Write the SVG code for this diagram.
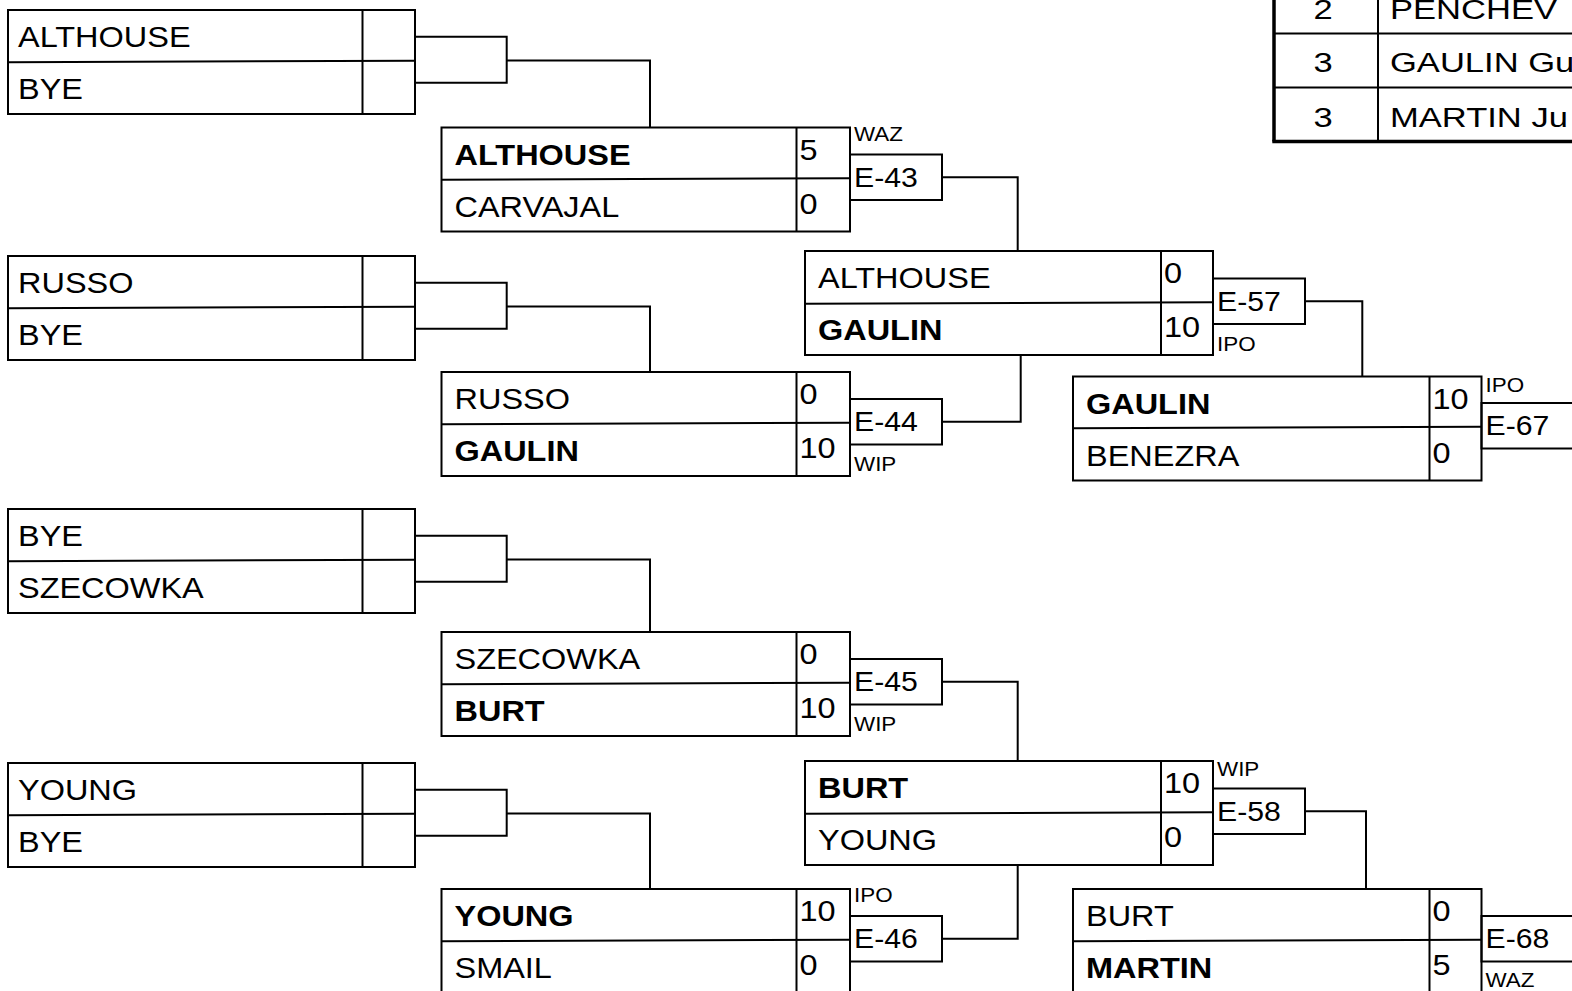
<svg xmlns="http://www.w3.org/2000/svg" width="1572" height="991" viewBox="0 0 1572 991">
<style>
.b{fill:none;stroke:#000;stroke-width:2}
.tb{fill:none;stroke:#000;stroke-width:3.5}
.c{fill:none;stroke:#000;stroke-width:2}
text{font-family:"Liberation Sans",Arial,sans-serif;fill:#000}
.n{font-size:29px}
.w{font-weight:bold}
.m{font-size:27px}
.t{font-size:20px}
.tt{font-size:27px}
</style>
<rect x="0" y="0" width="1572" height="991" fill="#fff"/>

<g id="table">
<line class="tb" x1="1274" y1="-5" x2="1274" y2="141.5"/>
<line class="tb" x1="1272.3" y1="141.5" x2="1580" y2="141.5"/>
<line class="b" x1="1378" y1="-5" x2="1378" y2="141.5"/>
<line class="b" x1="1274" y1="33.5" x2="1580" y2="33.5"/>
<line class="b" x1="1274" y1="87.5" x2="1580" y2="87.5"/>
<text class="tt" text-anchor="middle" transform="translate(1323 19) scale(1.28 1)">2</text>
<text class="tt" text-anchor="middle" transform="translate(1323 72) scale(1.28 1)">3</text>
<text class="tt" text-anchor="middle" transform="translate(1323 126.5) scale(1.28 1)">3</text>
<text class="tt" transform="translate(1390 19) scale(1.28 1)">PENCHEV</text>
<text class="tt" transform="translate(1390 72) scale(1.28 1)">GAULIN Gu</text>
<text class="tt" transform="translate(1390 126.5) scale(1.28 1)">MARTIN Ju</text>
</g>

<g id="connectors">
<path class="c" d="M415,36.7 H506.7 V82.7 H415 M506.7,60.5 H650 V127.5"/>
<path class="c" d="M415,282.7 H506.7 V328.7 H415 M506.7,306.5 H650 V372"/>
<path class="c" d="M415,535.7 H506.7 V581.7 H415 M506.7,559.5 H650 V632"/>
<path class="c" d="M415,789.7 H506.7 V835.7 H415 M506.7,813.5 H650 V889"/>
<path class="c" d="M942,177.25 H1017.7 V251"/>
<path class="c" d="M942,421.75 H1020.7 V355"/>
<path class="c" d="M942,681.75 H1017.7 V761"/>
<path class="c" d="M942,938.75 H1017.7 V865"/>
<path class="c" d="M1305,301.25 H1362.3 V376.5"/>
<path class="c" d="M1305,811.25 H1366 V889"/>
</g>

<g id="r1-a">
<rect class="b" x="8" y="10" width="407" height="104"/>
<line class="b" x1="362.5" y1="10" x2="362.5" y2="114"/>
<line class="b" x1="8" y1="62.2" x2="415" y2="60.8"/>
<text class="n" transform="translate(18 47) scale(1.12 1)">ALTHOUSE</text>
<text class="n" transform="translate(18 99) scale(1.12 1)">BYE</text>
</g>
<g id="r1-b">
<rect class="b" x="8" y="256" width="407" height="104"/>
<line class="b" x1="362.5" y1="256" x2="362.5" y2="360"/>
<line class="b" x1="8" y1="308.2" x2="415" y2="306.8"/>
<text class="n" transform="translate(18 293) scale(1.12 1)">RUSSO</text>
<text class="n" transform="translate(18 345) scale(1.12 1)">BYE</text>
</g>
<g id="r1-c">
<rect class="b" x="8" y="509" width="407" height="104"/>
<line class="b" x1="362.5" y1="509" x2="362.5" y2="613"/>
<line class="b" x1="8" y1="561.2" x2="415" y2="559.8"/>
<text class="n" transform="translate(18 546) scale(1.12 1)">BYE</text>
<text class="n" transform="translate(18 598) scale(1.12 1)">SZECOWKA</text>
</g>
<g id="r1-d">
<rect class="b" x="8" y="763" width="407" height="104"/>
<line class="b" x1="362.5" y1="763" x2="362.5" y2="867"/>
<line class="b" x1="8" y1="815.2" x2="415" y2="813.8"/>
<text class="n" transform="translate(18 800) scale(1.12 1)">YOUNG</text>
<text class="n" transform="translate(18 852) scale(1.12 1)">BYE</text>
</g>

<g id="e43">
<rect class="b" x="441.5" y="127.5" width="408.5" height="104"/>
<line class="b" x1="796.5" y1="127.5" x2="796.5" y2="231.5"/>
<line class="b" x1="441.5" y1="179.7" x2="850" y2="178.3"/>
<text class="n w" transform="translate(454.5 164.5) scale(1.12 1)">ALTHOUSE</text>
<text class="n" transform="translate(454.5 216.5) scale(1.12 1)">CARVAJAL</text>
<text class="n" transform="translate(799.5 159.5) scale(1.12 1)">5</text>
<text class="n" transform="translate(799.5 213.5) scale(1.12 1)">0</text>
<rect class="b" x="850" y="154.5" width="92" height="45.5"/>
<text class="m" transform="translate(854 186.5) scale(1.12 1)">E-43</text>
<text class="t" transform="translate(854 141) scale(1.12 1)">WAZ</text>
</g>
<g id="e44">
<rect class="b" x="441.5" y="372" width="408.5" height="104"/>
<line class="b" x1="796.5" y1="372" x2="796.5" y2="476"/>
<line class="b" x1="441.5" y1="424.2" x2="850" y2="422.8"/>
<text class="n" transform="translate(454.5 409) scale(1.12 1)">RUSSO</text>
<text class="n w" transform="translate(454.5 461) scale(1.12 1)">GAULIN</text>
<text class="n" transform="translate(799.5 404) scale(1.12 1)">0</text>
<text class="n" transform="translate(799.5 458) scale(1.12 1)">10</text>
<rect class="b" x="850" y="399" width="92" height="45.5"/>
<text class="m" transform="translate(854 431) scale(1.12 1)">E-44</text>
<text class="t" transform="translate(854 471) scale(1.12 1)">WIP</text>
</g>
<g id="e45">
<rect class="b" x="441.5" y="632" width="408.5" height="104"/>
<line class="b" x1="796.5" y1="632" x2="796.5" y2="736"/>
<line class="b" x1="441.5" y1="684.2" x2="850" y2="682.8"/>
<text class="n" transform="translate(454.5 669) scale(1.12 1)">SZECOWKA</text>
<text class="n w" transform="translate(454.5 721) scale(1.12 1)">BURT</text>
<text class="n" transform="translate(799.5 664) scale(1.12 1)">0</text>
<text class="n" transform="translate(799.5 718) scale(1.12 1)">10</text>
<rect class="b" x="850" y="659" width="92" height="45.5"/>
<text class="m" transform="translate(854 691) scale(1.12 1)">E-45</text>
<text class="t" transform="translate(854 731) scale(1.12 1)">WIP</text>
</g>
<g id="e46">
<rect class="b" x="441.5" y="889" width="408.5" height="104"/>
<line class="b" x1="796.5" y1="889" x2="796.5" y2="993"/>
<line class="b" x1="441.5" y1="941.2" x2="850" y2="939.8"/>
<text class="n w" transform="translate(454.5 926) scale(1.12 1)">YOUNG</text>
<text class="n" transform="translate(454.5 978) scale(1.12 1)">SMAIL</text>
<text class="n" transform="translate(799.5 921) scale(1.12 1)">10</text>
<text class="n" transform="translate(799.5 975) scale(1.12 1)">0</text>
<rect class="b" x="850" y="916" width="92" height="45.5"/>
<text class="m" transform="translate(854 948) scale(1.12 1)">E-46</text>
<text class="t" transform="translate(854 902) scale(1.12 1)">IPO</text>
</g>

<g id="e57">
<rect class="b" x="805" y="251" width="408" height="104"/>
<line class="b" x1="1161" y1="251" x2="1161" y2="355"/>
<line class="b" x1="805" y1="303.7" x2="1213" y2="302.3"/>
<text class="n" transform="translate(818 288) scale(1.12 1)">ALTHOUSE</text>
<text class="n w" transform="translate(818 340) scale(1.12 1)">GAULIN</text>
<text class="n" transform="translate(1164 283) scale(1.12 1)">0</text>
<text class="n" transform="translate(1164 337) scale(1.12 1)">10</text>
<rect class="b" x="1213" y="278.5" width="92" height="45.5"/>
<text class="m" transform="translate(1217 310.5) scale(1.12 1)">E-57</text>
<text class="t" transform="translate(1217 351) scale(1.12 1)">IPO</text>
</g>
<g id="e58">
<rect class="b" x="805" y="761" width="408" height="104"/>
<line class="b" x1="1161" y1="761" x2="1161" y2="865"/>
<line class="b" x1="805" y1="813.7" x2="1213" y2="812.3"/>
<text class="n w" transform="translate(818 798) scale(1.12 1)">BURT</text>
<text class="n" transform="translate(818 850) scale(1.12 1)">YOUNG</text>
<text class="n" transform="translate(1164 793) scale(1.12 1)">10</text>
<text class="n" transform="translate(1164 847) scale(1.12 1)">0</text>
<rect class="b" x="1213" y="788.5" width="92" height="45.5"/>
<text class="m" transform="translate(1217 820.5) scale(1.12 1)">E-58</text>
<text class="t" transform="translate(1217 776) scale(1.12 1)">WIP</text>
</g>

<g id="e67">
<rect class="b" x="1073" y="376.5" width="408.5" height="104"/>
<line class="b" x1="1429.5" y1="376.5" x2="1429.5" y2="480.5"/>
<line class="b" x1="1073" y1="428.2" x2="1481.5" y2="426.8"/>
<text class="n w" transform="translate(1086 413.5) scale(1.12 1)">GAULIN</text>
<text class="n" transform="translate(1086 465.5) scale(1.12 1)">BENEZRA</text>
<text class="n" transform="translate(1432.5 408.5) scale(1.12 1)">10</text>
<text class="n" transform="translate(1432.5 462.5) scale(1.12 1)">0</text>
<rect class="b" x="1481.5" y="403" width="120" height="45.5"/>
<text class="m" transform="translate(1485.5 435) scale(1.12 1)">E-67</text>
<text class="t" transform="translate(1485.5 391.5) scale(1.12 1)">IPO</text>
</g>
<g id="e68">
<rect class="b" x="1073" y="889" width="408.5" height="104"/>
<line class="b" x1="1429.5" y1="889" x2="1429.5" y2="993"/>
<line class="b" x1="1073" y1="941.2" x2="1481.5" y2="939.8"/>
<text class="n" transform="translate(1086 926) scale(1.12 1)">BURT</text>
<text class="n w" transform="translate(1086 978) scale(1.12 1)">MARTIN</text>
<text class="n" transform="translate(1432.5 921) scale(1.12 1)">0</text>
<text class="n" transform="translate(1432.5 975) scale(1.12 1)">5</text>
<rect class="b" x="1481.5" y="916" width="120" height="45.5"/>
<text class="m" transform="translate(1485.5 948) scale(1.12 1)">E-68</text>
<text class="t" transform="translate(1485.5 987) scale(1.12 1)">WAZ</text>
</g>
</svg>
